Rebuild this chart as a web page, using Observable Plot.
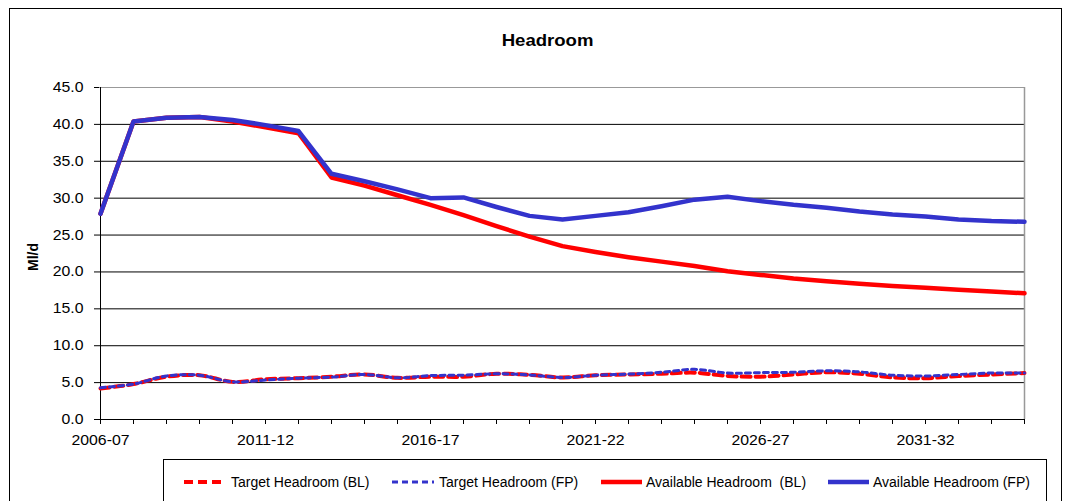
<!DOCTYPE html>
<html>
<head>
<meta charset="utf-8">
<script src="https://cdn.jsdelivr.net/npm/d3@7"></script>
<script src="https://cdn.jsdelivr.net/npm/@observablehq/plot@0.6"></script>
<style>
  body { margin: 0; background: #fff; font-family: "Liberation Sans", Arial, sans-serif; }
  #wrap { position: relative; width: 1069px; height: 501px; overflow: hidden; background: #fff; }
  #border { position: absolute; left: 9px; top: 8px; width: 1053px; height: 560px; border: 1px solid #000; box-sizing: border-box; }
  #chart { position: absolute; left: 0; top: 0; }
  #title { position: absolute; left: 448px; width: 200px; top: 32px; text-align: center; font-weight: bold; font-size: 16px; color: #000; }
  #title span, .leg span.t { display: inline-block; white-space: pre; transform-origin: 50% 50%; }
  #ylab { position: absolute; left: 33px; top: 257px; font-weight: bold; font-size: 14px; transform: translate(-50%, -50%) rotate(-90deg); white-space: nowrap; }
  #legend { position: absolute; left: 163px; top: 459px; width: 884px; height: 80px; border: 1px solid #000; box-sizing: border-box; background: #fff; }
  .leg { position: absolute; top: 474px; height: 16px; display: flex; align-items: center; font-size: 14px; color: #000; }
</style>
</head>
<body>
<div id="wrap">
  <div id="border"></div>
  <div id="chart"></div>
  <div id="title"><span>Headroom</span></div>
  <div id="ylab">Ml/d</div>
  <div id="legend"></div>
</div>
<script>
// ---- Data ----
const categories = ["2006-07","2007-08","2008-09","2009-10","2010-11","2011-12","2012-13","2013-14","2014-15","2015-16",
  "2016-17","2017-18","2018-19","2019-20","2020-21","2021-22","2022-23","2023-24","2024-25","2025-26",
  "2026-27","2027-28","2028-29","2029-30","2030-31","2031-32","2032-33","2033-34","2034-35"];
const targetBL = [4.2, 4.8, 5.8, 6.0, 5.1, 5.45, 5.6, 5.8, 6.1, 5.65, 5.8, 5.8, 6.2, 6.05, 5.7, 6.0, 6.1, 6.2, 6.35, 5.9,
  5.8, 6.1, 6.4, 6.2, 5.7, 5.6, 5.9, 6.1, 6.3];
const targetFP = [4.3, 4.8, 5.9, 6.0, 5.1, 5.35, 5.6, 5.75, 6.1, 5.65, 5.95, 6.0, 6.2, 6.05, 5.7, 6.0, 6.15, 6.4, 6.8, 6.3,
  6.35, 6.4, 6.6, 6.45, 6.0, 5.9, 6.1, 6.3, 6.3];
const availableBL = [27.9, 40.4, 40.9, 41.0, 40.4, 39.6, 38.8, 32.8, 31.7, 30.4, 29.1, 27.7, 26.2, 24.8, 23.5, 22.7, 22.0, 21.4, 20.8, 20.1,
  19.6, 19.1, 18.75, 18.4, 18.1, 17.85, 17.6, 17.35, 17.1];
const availableFP = [27.9, 40.4, 40.9, 41.0, 40.6, 39.9, 39.1, 33.3, 32.3, 31.2, 30.0, 30.1, 28.8, 27.6, 27.1, 27.6, 28.1, 28.9, 29.8, 30.2,
  29.6, 29.1, 28.7, 28.2, 27.8, 27.5, 27.1, 26.9, 26.8];
const yTicks = [0, 5, 10, 15, 20, 25, 30, 35, 40, 45];
const xLabelEvery = 5;
const seriesNames = ["Target Headroom (BL)", "Target Headroom (FP)", "Available Headroom  (BL)", "Available Headroom (FP)"];

const RED = "#FF0000", BLUE = "#3333CC";
const rows = arr => arr.map((v, i) => ({c: categories[i], v}));

const plot = Plot.plot({
  width: 1069,
  height: 460,
  marginLeft: 99,
  marginRight: 44,
  marginTop: 87,
  marginBottom: 41,
  style: {fontFamily: "Liberation Sans, Arial, sans-serif", fontSize: "14px", color: "#000", background: "transparent"},
  x: {type: "point", domain: categories, padding: 0},
  y: {domain: [0, 45]},
  marks: [
    Plot.ruleY(yTicks.filter(d => d > 0 && d < 45), {stroke: "#000", strokeWidth: 1}),
    Plot.ruleY([45], {stroke: "#999", strokeWidth: 1}),
    Plot.ruleX([categories[categories.length - 1]], {stroke: "#999", strokeWidth: 1.5}),
    Plot.ruleX([categories[0]], {stroke: "#000", strokeWidth: 1}),
    Plot.ruleY([0], {stroke: "#000", strokeWidth: 1}),
    Plot.axisY({ticks: yTicks, tickFormat: d => d.toFixed(1), tickSize: 5, tickPadding: 11, label: null, stroke: "#000"}),
    Plot.axisX({tickSize: 5, tickPadding: 11, label: null, stroke: "#000",
      tickFormat: (d, i) => (categories.indexOf(d) % xLabelEvery === 0 ? d : "")}),
    Plot.line(rows(targetBL), {x: "c", y: "v", stroke: RED, strokeWidth: 4, strokeDasharray: "9,5", curve: "catmull-rom"}),
    Plot.line(rows(targetFP), {x: "c", y: "v", stroke: BLUE, strokeWidth: 3, strokeDasharray: "5,4", curve: "catmull-rom"}),
    Plot.line(rows(availableBL), {x: "c", y: "v", stroke: RED, strokeWidth: 4.5}),
    Plot.line(rows(availableFP), {x: "c", y: "v", stroke: BLUE, strokeWidth: 4.5})
  ]
});
document.getElementById("chart").appendChild(plot);

// horizontal stretch of tick label glyphs, like the reference
const K = 1.13;
plot.querySelectorAll("g[aria-label='x-axis tick label'] text, g[aria-label='y-axis tick label'] text").forEach(t => {
  if (!t.textContent) return;
  const L = t.getComputedTextLength();
  t.setAttribute("textLength", (L * K).toFixed(1));
  t.setAttribute("lengthAdjust", "spacingAndGlyphs");
});
document.querySelector("#title span").style.transform = "scaleX(1.16)";

// legend
const legendItems = [
  {name: seriesNames[0], color: RED, w: 4, dash: "9,5", sx: 183, sw: 44, tx: 231},
  {name: seriesNames[1], color: BLUE, w: 3, dash: "6,4", sx: 391, sw: 44, tx: 439},
  {name: seriesNames[2], color: RED, w: 4.5, dash: null, sx: 600, sw: 43, tx: 646},
  {name: seriesNames[3], color: BLUE, w: 4.5, dash: null, sx: 827, sw: 43, tx: 873}
];
const wrap = document.getElementById("wrap");
legendItems.forEach(it => {
  const sw = document.createElementNS("http://www.w3.org/2000/svg", "svg");
  sw.setAttribute("width", it.sw); sw.setAttribute("height", 16);
  sw.style.position = "absolute"; sw.style.left = it.sx + "px"; sw.style.top = "474px";
  const ln = document.createElementNS("http://www.w3.org/2000/svg", "line");
  ln.setAttribute("x1", 1); ln.setAttribute("x2", it.sw - 1); ln.setAttribute("y1", 8); ln.setAttribute("y2", 8);
  ln.setAttribute("stroke", it.color); ln.setAttribute("stroke-width", it.w);
  if (it.dash) ln.setAttribute("stroke-dasharray", it.dash);
  sw.appendChild(ln);
  wrap.appendChild(sw);
  const d = document.createElement("div");
  d.className = "leg"; d.style.left = it.tx + "px";
  const s = document.createElement("span"); s.className = "t"; s.textContent = it.name;
  d.appendChild(s); wrap.appendChild(d);
});
</script>
</body>
</html>
